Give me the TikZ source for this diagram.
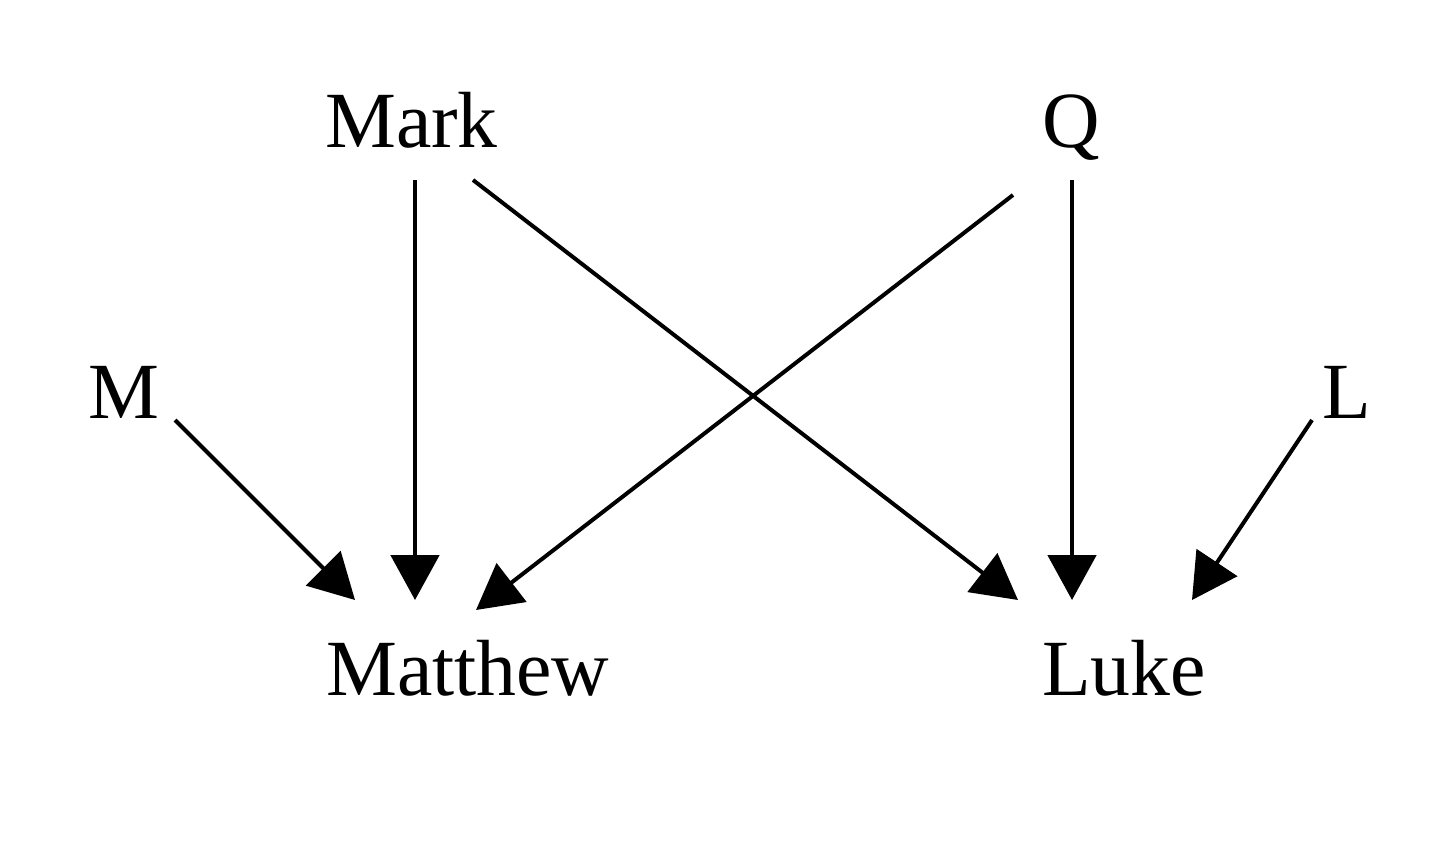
\documentclass[tikz,border=0pt]{standalone}
\usepackage{fontspec}
\setmainfont{Liberation Serif}
\usetikzlibrary{arrows.meta,calc}
\begin{document}
\begin{tikzpicture}[x=0.03cm,y=-0.03cm,
  lbl/.style={anchor=base west,inner sep=0pt,font=\fontsize{68}{80}\selectfont},
  arr/.style={line width=3.4pt,-{Triangle[length=1.35cm,width=1.45cm]}}]
\useasboundingbox (0,0) rectangle (1440,849);
\node[lbl] (mark) at (325,148) {Mark};
\node[lbl] (q) at (1042,148) {Q};
\node[lbl] (m) at (88,418) {M};
\node[lbl] (l) at (1322,418) {L};
\node[lbl] (matthew) at (326,695) {Matthew};
\node[lbl] (luke) at (1042,695) {Luke};
\draw[arr] ($(mark.base west)+(90,32)$) -- ($(matthew.base west)+(89,-95)$);
\draw[arr] ($(mark.base west)+(148,32)$) -- ($(luke.base west)+(-24,-95)$);
\draw[arr] ($(q.base west)+(-29,47)$) -- ($(matthew.base west)+(150,-85)$);
\draw[arr] ($(q.base west)+(30,32)$) -- ($(luke.base west)+(30,-95)$);
\draw[arr] ($(m.base west)+(87,2)$) -- ($(matthew.base west)+(29,-95)$);
\draw[arr] ($(l.base west)+(-10,2)$) -- ($(luke.base west)+(150,-95)$);
\end{tikzpicture}
\end{document}
